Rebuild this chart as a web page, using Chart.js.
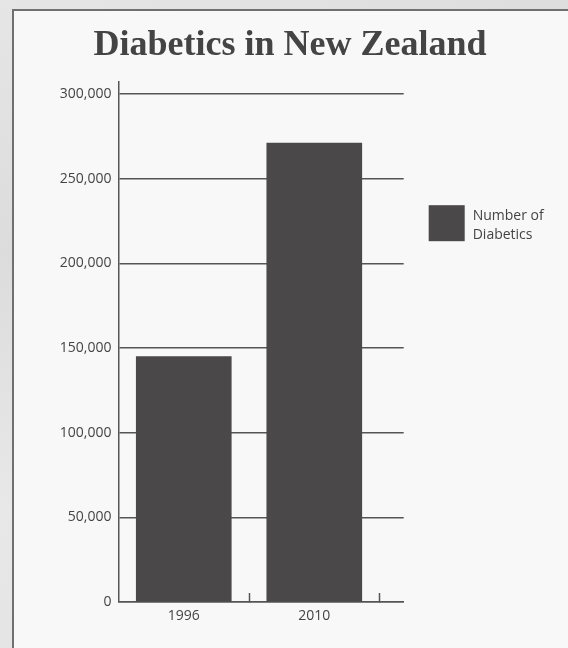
<!DOCTYPE html>
<html>
<head>
<meta charset="utf-8">
<title>Diabetics in New Zealand</title>
<script src="https://cdn.jsdelivr.net/npm/chart.js@4.4.1/dist/chart.umd.min.js"></script>
<style>
  html, body { margin: 0; padding: 0; }
  body {
    width: 568px; height: 648px; overflow: hidden; position: relative;
    background: linear-gradient(160deg, #e6e6e6 0%, #dcdcdc 30%, #e8e8e8 60%, #dfdfdf 100%);
  }
  #frame {
    position: absolute; left: 12px; top: 9px; width: 600px; height: 700px;
    border: 2px solid #707070; background: #f8f8f8;
  }
  #wrap { position: absolute; left: 0; top: 0; width: 568px; height: 648px; }
</style>
</head>
<body>
<div id="frame"></div>
<div id="wrap"><canvas id="myBarChart" width="568" height="648"></canvas></div>
<script>
const TITLE = "Diabetics in New Zealand";
const CATEGORIES = ["1996", "2010"];
const VALUES = [145000, 271000];
const SERIES_LINES = ["Number of", "Diabetics"];
const Y_TICKS = [0, 50000, 100000, 150000, 200000, 250000, 300000];

const ink = "#444444";
const barColor = "#4a4848";
const lineColor = "#555555";

// legend drawn by hand: the label breaks over two lines
const sideLegend = {
  id: "sideLegend",
  afterDraw(chart) {
    const { ctx, chartArea } = chart;
    const ds = chart.data.datasets[0];
    const x = chartArea.right + 25;
    const y = chartArea.top + 123;
    ctx.save();
    ctx.fillStyle = ds.backgroundColor;
    ctx.fillRect(x, y, 36, 36);
    ctx.fillStyle = ink;
    ctx.font = '14px "Open Sans"';
    ctx.textAlign = "left";
    ctx.textBaseline = "alphabetic";
    SERIES_LINES.forEach((line, i) => {
      ctx.fillText(line, x + 44, y + 15 + i * 18.5);
    });
    ctx.restore();
  }
};

const ctx = document.getElementById("myBarChart");

new Chart(ctx, {
  type: "bar",
  data: {
    datasets: [
      {
        label: SERIES_LINES.join(" "),
        data: VALUES.map((v, i) => ({ x: i + 0.5, y: v })),
        backgroundColor: barColor,
        borderWidth: 0,
        barThickness: 95,
      },
    ],
  },
  options: {
    responsive: false,
    animation: false,
    layout: { padding: { left: 12, top: 0, right: 0, bottom: 0 } },
    plugins: {
      legend: { display: false },
      tooltip: { enabled: false },
      title: {
        display: true,
        text: TITLE,
        color: ink,
        font: { family: '"Liberation Serif", "Times New Roman", serif', size: 36, weight: "bold", lineHeight: 1.2 },
        padding: { top: 24, bottom: 15 },
      },
    },
    scales: {
      x: {
        type: "linear",
        position: "bottom",
        offset: false,
        min: 0,
        max: 2.185,
        afterBuildTicks: (scale) => {
          const t = [];
          CATEGORIES.forEach((c, i) => {
            t.push({ value: i + 0.5 });
            t.push({ value: i + 1 });
          });
          scale.ticks = t;
        },
        afterFit: (scale) => { scale.height = 46; },
        ticks: {
          autoSkip: false,
          maxRotation: 0,
          padding: 15,
          color: ink,
          font: { family: '"Open Sans"', size: 14 },
          callback: (value) => {
            const i = value - 0.5;
            return Number.isInteger(i) ? CATEGORIES[i] : "";
          },
        },
        grid: {
          offset: false,
          drawOnChartArea: false,
          drawTicks: true,
          tickLength: -9,
          tickWidth: 1.5,
          tickColor: (c) => (c.tick && c.tick.value % 1 !== 0 ? "rgba(0,0,0,0)" : lineColor),
        },
        border: { display: true, color: lineColor, width: 1.5 },
      },
      y: {
        position: "left",
        min: 0,
        max: 307000,
        afterBuildTicks: (scale) => {
          scale.ticks = Y_TICKS.map((v) => ({ value: v }));
        },
        afterFit: (scale) => { scale.width = 106.5; },
        ticks: {
          padding: 7,
          color: ink,
          font: { family: '"Open Sans"', size: 14 },
          callback: (value) => value.toLocaleString("en-US"),
        },
        grid: { color: lineColor, lineWidth: 1.5, drawTicks: false },
        border: { display: true, color: lineColor, width: 1.5 },
      },
      spacer: {
        type: "linear",
        position: "right",
        display: true,
        ticks: { display: false },
        grid: { display: false },
        border: { display: false },
        afterFit: (scale) => { scale.width = 164.3; },
      },
    },
  },
  plugins: [sideLegend],
});
</script>
</body>
</html>
